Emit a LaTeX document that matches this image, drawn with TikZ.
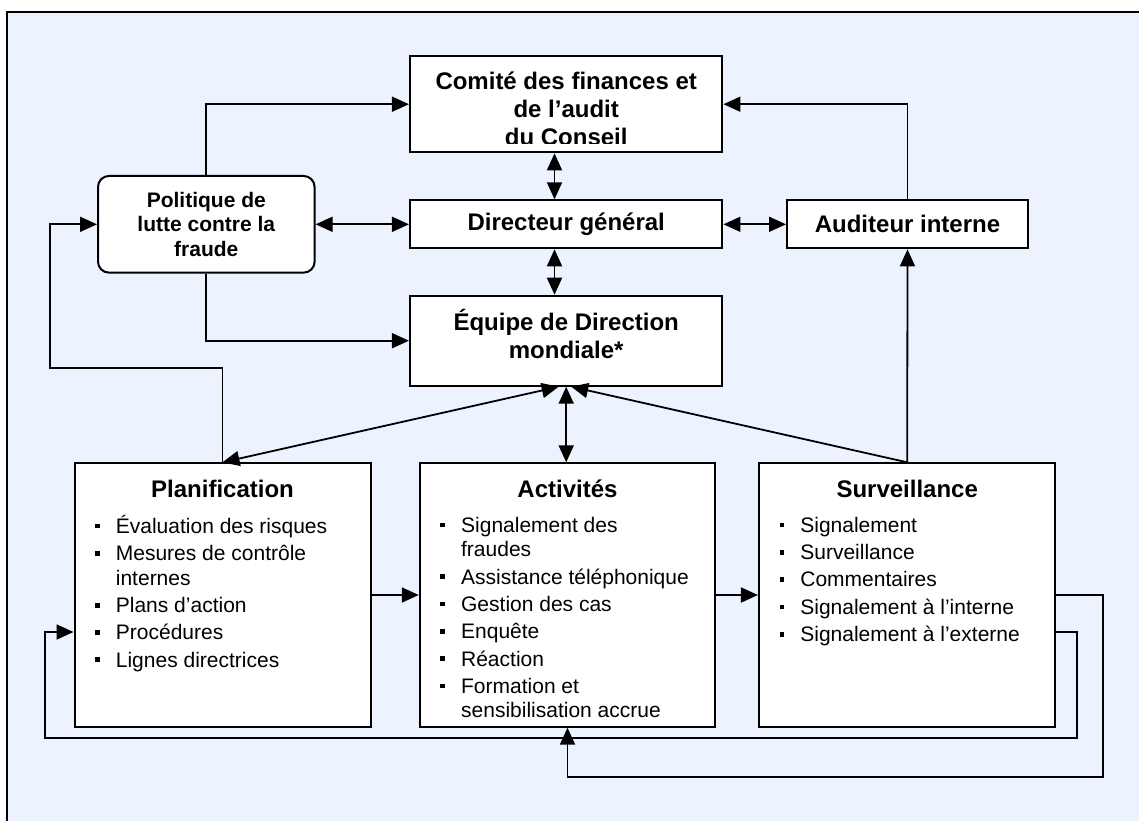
\documentclass[tikz,border=0pt]{standalone}
\usepackage{fontspec}
\setmainfont{Liberation Sans}
\usetikzlibrary{arrows.meta,positioning}
\definecolor{fondbleu}{RGB}{237,243,254}
\newcommand{\puce}{\rule[5pt]{4.7pt}{4.7pt}}

\begin{document}
\begin{tikzpicture}[x=1pt, y=-1pt,
  boite/.style={draw, line width=2pt, fill=white, inner sep=0pt},
  titre/.style={font=\bfseries\fontsize{24}{28}\selectfont, align=center, inner sep=0pt},
  petit/.style={font=\bfseries\fontsize{21}{24.5}\selectfont, align=center},
  liste/.style={font=\fontsize{21}{24.5}\selectfont, inner sep=0pt, anchor=north west},
  fleche/.style={line width=1.8pt, -{Triangle[length=17pt,width=15pt]}},
  bifleche/.style={line width=1.8pt, {Triangle[length=17pt,width=15pt]}-{Triangle[length=17pt,width=15pt]}}]

\useasboundingbox (0,0) rectangle (1139,820);
\clip (0,0) rectangle (1139,820);
\draw[line width=2pt, fill=fondbleu] (6.9,12.3) rectangle (1160,840);

\node[boite, minimum width=312.5, minimum height=96.3]          (comite)    at (566.2,104.2) {};
\node[boite, titre, minimum width=312.5, minimum height=48]     (dg)        at (566.2,224.3) {Directeur général};
\node[boite, titre, minimum width=241, minimum height=48]       (audit)     at (907.5,224.3) {Auditeur interne};
\node[boite, minimum width=312.5, minimum height=90]            (equipe)    at (566.2,340.7) {};
\node[boite, petit, rounded corners=11pt, minimum width=216.6, minimum height=96.7]
                                                                (politique) at (206.3,224.3) {Politique de\\lutte contre la\\fraude};
\node[boite, minimum width=296, minimum height=263.4]           (planif)    at (222.5,595) {};
\node[boite, minimum width=295.5, minimum height=263.4]         (activ)     at (567.5,595) {};
\node[boite, minimum width=296.5, minimum height=263.4]         (surv)      at (907.2,595) {};

\begin{scope}
  \clip (comite.north west) rectangle ([yshift=10]comite.south east);
  \node[titre] (comite-t) at ([yshift=-4.8]comite.center) {Comité des finances et\\de l’audit\\du Conseil};
\end{scope}
\node[titre] (equipe-t) at ([yshift=7]equipe.center) {Équipe de Direction\\mondiale*};

\node[titre, anchor=base] (planif-t) at ([yshift=-34.7]planif.north) {Planification};
\node[titre, anchor=base] (activ-t)  at ([yshift=-34.7]activ.north)  {Activités};
\node[titre, anchor=base] (surv-t)   at ([yshift=-34.7]surv.north)   {Surveillance};

\node[liste] (planif-l) at ([xshift=21.5, yshift=-52.7]planif.north west) {%
  \begin{tabular}{@{}l@{\hspace{16pt}}l@{}}
  \puce & Évaluation des risques\\[2.8pt]
  \puce & Mesures de contrôle\\
        & internes\\[2.8pt]
  \puce & Plans d’action\\[2.8pt]
  \puce & Procédures\\[2.8pt]
  \puce & Lignes directrices
  \end{tabular}};
\node[liste] (activ-l) at ([xshift=21.5, yshift=-52.7]activ.north west) {%
  \begin{tabular}{@{}l@{\hspace{16pt}}l@{}}
  \puce & Signalement des\\
        & fraudes\\[2.8pt]
  \puce & Assistance téléphonique\\[2.8pt]
  \puce & Gestion des cas\\[2.8pt]
  \puce & Enquête\\[2.8pt]
  \puce & Réaction\\[2.8pt]
  \puce & Formation et\\
        & sensibilisation accrue
  \end{tabular}};
\node[liste] (surv-l) at ([xshift=21.5, yshift=-52.7]surv.north west) {%
  \begin{tabular}{@{}l@{\hspace{16pt}}l@{}}
  \puce & Signalement\\[2.8pt]
  \puce & Surveillance\\[2.8pt]
  \puce & Commentaires\\[2.8pt]
  \puce & Signalement à l’interne\\[2.8pt]
  \puce & Signalement à l’externe
  \end{tabular}};

\coordinate (retour)  at (49.8,368.3);
\coordinate (boucleD) at (1077.3,738.3);
\coordinate (boucleG) at (45,738.3);
\coordinate (boucleE) at (1103.3,776.7);

\draw[bifleche] ([xshift=-11.7]comite.south) -- ([xshift=-11.7]dg.north);
\draw[bifleche] ([xshift=-11.7]dg.south) -- ([xshift=-11.7]equipe.north);
\draw[bifleche] (dg.east) -- (audit.west);
\draw[bifleche] (politique.east) -- (dg.west);
\draw[fleche] (audit.north) |- (comite.east);
\draw[fleche] (politique.north) |- (comite.west);
\draw[fleche] (politique.south) |- (equipe.west);
\draw[fleche] (planif.north) |- (retour) |- (politique.west);
\draw[bifleche] (planif.north) -- ([xshift=-7.5]equipe.south);
\draw[bifleche] (equipe.south) -- (equipe.south |- activ.north);
\draw[fleche] (surv.north) -- ([xshift=5]equipe.south);
\draw[fleche] (surv.north) -- (audit.south);
\draw[fleche] (planif.east) -- (activ.west);
\draw[fleche] (activ.east) -- (surv.west);
\draw[fleche] ([yshift=-37]surv.east) -| (boucleD) -- (boucleG) |- ([yshift=-37]planif.west);
\draw[fleche] (surv.east) -| (boucleE) -| (activ.south);
\end{tikzpicture}
\end{document}
